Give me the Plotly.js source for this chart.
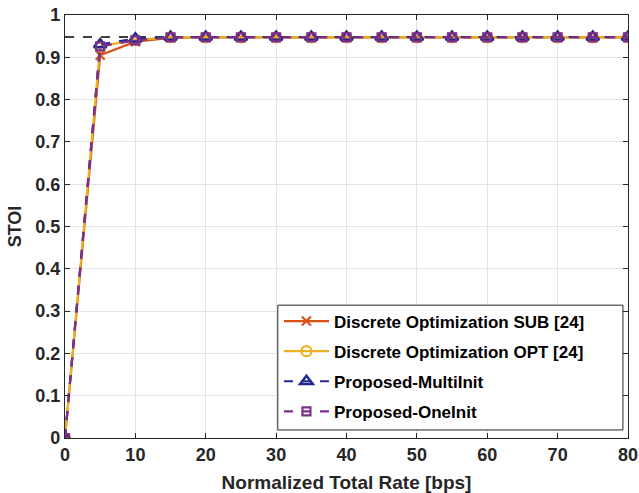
<!DOCTYPE html>
<html><head><meta charset="utf-8">
<script src="https://cdn.plot.ly/plotly-3.0.1.min.js"></script>
<style>html,body{margin:0;padding:0;background:#fff}#plot{width:639px;height:493px}</style>
</head><body><div id="plot"></div>
<script>
const rates = [0,5,10,15,20,25,30,35,40,45,50,55,60,65,70,75,80];
const sub   = [0,0.905,0.937,0.946,0.947,0.947,0.947,0.947,0.947,0.947,0.947,0.947,0.947,0.947,0.947,0.947,0.947];
const opt   = [0,0.926,0.941,0.947,0.947,0.947,0.947,0.947,0.947,0.947,0.947,0.947,0.947,0.947,0.947,0.947,0.947];
const multi = [0,0.930,0.944,0.948,0.948,0.948,0.948,0.948,0.948,0.948,0.948,0.948,0.948,0.948,0.948,0.948,0.948];
const one   = [0,0.926,0.940,0.947,0.947,0.947,0.947,0.947,0.947,0.947,0.947,0.947,0.947,0.947,0.947,0.947,0.947];
const boundX = [0,80];
const boundY = [0.948,0.948];
const names = ['Discrete Optimization SUB [24]','Discrete Optimization OPT [24]','Proposed-MultiInit','Proposed-OneInit'];
const xTicks = [0,10,20,30,40,50,60,70,80];
const yTicks = [0,0.1,0.2,0.3,0.4,0.5,0.6,0.7,0.8,0.9,1];
const yTickText = ['0','0.1','0.2','0.3','0.4','0.5','0.6','0.7','0.8','0.9','1'];

const fam = 'Liberation Sans, Arial, sans-serif';
const traces = [
  {x: boundX, y: boundY, mode:'lines', line:{color:'#000', dash:'dash', width:1.5}, showlegend:false, hoverinfo:'skip'},
  {x: rates, y: sub, name: names[0], legendgroup:'a', mode:'lines+markers', line:{color:'#D95319', width:2.2},
   marker:{symbol:'x-thin-open', size:9, color:'#D95319', line:{color:'#D95319', width:2.2}}},
  {x: rates, y: opt, name: names[1], legendgroup:'b', mode:'lines+markers', line:{color:'#EDB120', width:2.2},
   marker:{symbol:'circle-open', size:10, color:'#EDB120', line:{width:2.2}}},
  {x: rates, y: multi, name: names[2], legendgroup:'c', mode:'lines+markers', line:{color:'#1F2A8C', width:2.2, dash:'dash'},
   marker:{symbol:'triangle-up-open', size:11, color:'#1F2A8C', line:{width:2.5}}},
  {x: rates, y: one, name: names[3], legendgroup:'d', mode:'lines+markers', line:{color:'#7E2F8E', width:2.2, dash:'dash'},
   marker:{symbol:'square-open', size:8, color:'#7E2F8E', line:{width:2.2}}}
];

const axFont = {family:fam, size:18, color:'#262626', weight:'bold'};
const layout = {
  width:639, height:493,
  margin:{l:65, r:11, t:15, b:55},
  paper_bgcolor:'#fff', plot_bgcolor:'#fff',
  showlegend:true,
  xaxis:{range:[0,80], tickvals:xTicks, ticktext:xTicks.map(String), showgrid:true, gridcolor:'#e3e3e3', gridwidth:1,
    zeroline:false, showline:true, linecolor:'#262626', linewidth:1.2, mirror:'ticks', ticks:'inside', ticklen:5, tickcolor:'#262626',
    tickfont:axFont, title:{text:'Normalized Total Rate [bps]', font:{family:fam, size:19, color:'#262626', weight:'bold'}, standoff:15}},
  yaxis:{range:[0,1], tickvals:yTicks, ticktext:yTickText, showgrid:true, gridcolor:'#e3e3e3', gridwidth:1,
    zeroline:false, showline:true, linecolor:'#262626', linewidth:1.2, mirror:'ticks', ticks:'inside', ticklen:5, tickcolor:'#262626',
    tickfont:axFont, title:{text:'STOI', font:{family:fam, size:18, color:'#262626', weight:'bold'}, standoff:8}},
  shapes:[{type:'rect', xref:'paper', yref:'paper', x0:0.378, x1:0.991, y0:0.019, y1:0.314,
    line:{color:'#262626', width:1}, fillcolor:'#fff', layer:'above'}],
  legend:{x:0.38, y:0.318, xanchor:'left', yanchor:'top', bgcolor:'rgba(0,0,0,0)', borderwidth:0,
    traceorder:'grouped', tracegroupgap:5, itemwidth:45,
    font:{family:fam, size:17, color:'#000', weight:'bold'}}
};
Plotly.newPlot('plot', traces, layout, {displayModeBar:false, staticPlot:true});
</script></body></html>
